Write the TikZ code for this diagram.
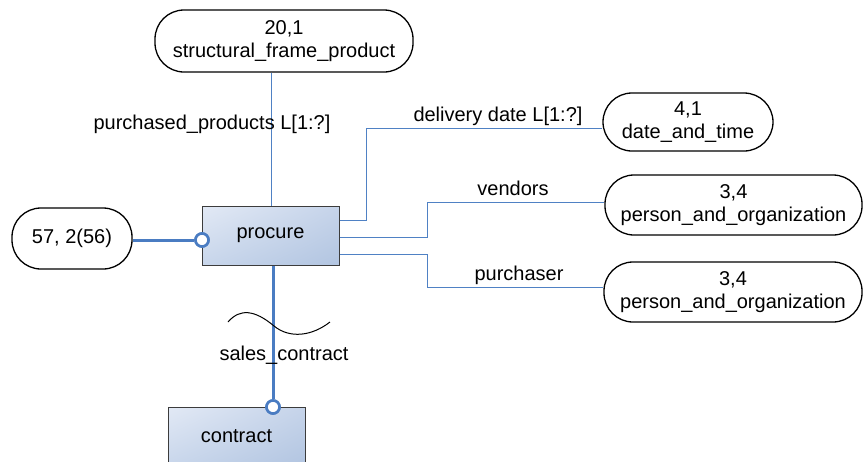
\documentclass[tikz,border=0pt]{standalone}
\usepackage{fontspec}
\setmainfont{Liberation Sans}
\usetikzlibrary{shadings}
\definecolor{lnblue}{RGB}{79,129,196}
\definecolor{tkblue}{RGB}{74,124,194}
\definecolor{boxul}{RGB}{226,233,245}
\definecolor{boxur}{RGB}{198,212,234}
\definecolor{boxll}{RGB}{200,214,235}
\definecolor{boxlr}{RGB}{178,197,225}
\definecolor{boxedge}{RGB}{60,60,60}
\begin{document}
\begin{tikzpicture}[x=1pt,y=-1pt,
  every node/.style={font=\fontsize{20}{23}\selectfont, inner sep=0pt},
  pill/.style={draw=black, line width=1.3pt, rounded corners=29pt, align=center, fill=white},
  entbox/.style={draw=boxedge, line width=1pt, minimum width=137pt, minimum height=59pt,
     lower left=boxll, upper left=boxul, upper right=boxur, lower right=boxlr},
  thinl/.style={draw=lnblue, line width=1pt},
  thickl/.style={draw=tkblue, line width=3pt},
  ring/.style={circle, draw=tkblue, line width=2.6pt, fill=white, minimum size=13pt},
  lbl/.style={}]
\clip (0,0) rectangle (863,461);
\fill[white] (0,0) rectangle (863,461);

% entities
\node[entbox] (procure) at (270.5,235.5) {procure};
\node[entbox] (contract) at (236.5,436.5) {contract};

% pills
\node[pill, minimum width=258pt, minimum height=62pt] (sfp) at (284,41) {20,1\\structural\_frame\_product};
\node[pill, minimum width=170pt, minimum height=58pt] (date) at (688,122) {4,1\\date\_and\_time};
\node[pill, minimum width=257pt, minimum height=60pt] (vend) at (733.5,205) {3,4\\person\_and\_organization};
\node[pill, minimum width=258pt, minimum height=60pt] (purch) at (733,292) {3,4\\person\_and\_organization};
\node[pill, minimum width=120pt, minimum height=61pt] (p57) at (72,238.5) {57, 2(56)};

% rings
\node[ring] (c1) at (202,240) {};
\node[ring] (c2) at (273,407) {};

% connectors
\coordinate (tx) at (271,0);
\draw[thinl] (sfp.south -| tx) -- (procure.north -| tx);
\draw[thinl] ([yshift=-15pt]procure.north east) -| (366,128) -- ([yshift=-6pt]date.west);
\draw[thinl] ([yshift=-1.5pt]procure.east) -| (427,202) -- ([yshift=3pt]vend.west);
\draw[thinl] ([yshift=-18.5pt]procure.east) -| (427,287) -- ([yshift=5pt]purch.west);
\draw[thickl] (c1 -| p57.east) -- (c1.west);
\draw[thickl] (procure.south -| c2) -- (c2.north);

% redraw rings on top
\node[ring] at (c1) {};
\node[ring] at (c2) {};

% wave
\draw[black, line width=1pt] (228,322) .. controls (240,308) and (255,310) .. (274,326)
   .. controls (290,339) and (312,336) .. (330,322);

% labels
\node[lbl] (l1) at (212,124) {purchased\_products L[1:?]};
\node[lbl] (l2) at (498,116) {delivery date L[1:?]};
\node[lbl] (l3) at (513,188) {vendors};
\node[lbl] (l4) at (519,275) {purchaser};
\node[lbl] (l5) at (284,355) {sales\_contract};
\end{tikzpicture}
\end{document}
